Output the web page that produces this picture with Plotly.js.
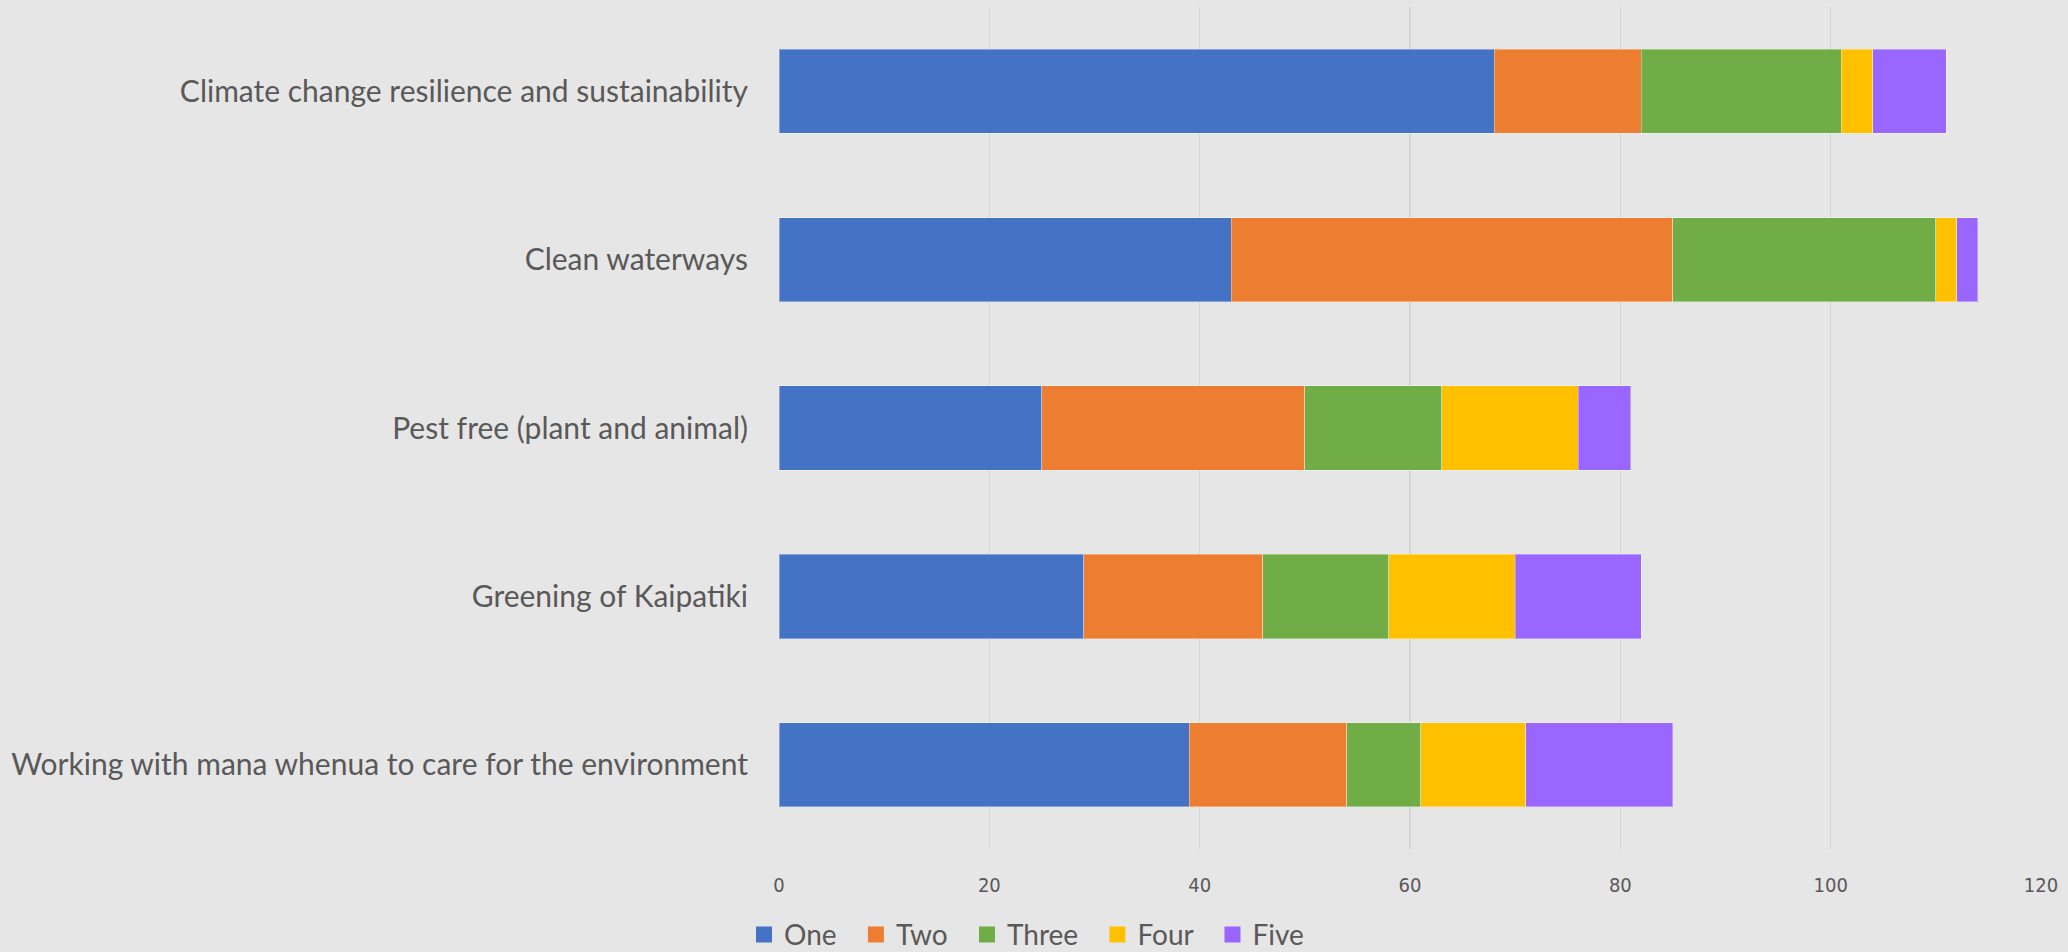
<!DOCTYPE html>
<html>
<head>
<meta charset="utf-8">
<script src="https://cdn.plot.ly/plotly-3.0.1.min.js"></script>
<style>html,body{margin:0;padding:0;background:#E7E6E6;}#chart{width:2068px;height:952px;}</style>
</head>
<body>
<div id="chart"></div>
<script>
const categories = [
  "Climate change resilience and sustainability",
  "Clean waterways",
  "Pest free (plant and animal)",
  "Greening of Kaipatiki",
  "Working with mana whenua to care for the environment"
];
const seriesNames = ["One", "Two", "Three", "Four", "Five"];
const one   = [68, 43, 25, 29, 39];
const two   = [14, 42, 25, 17, 15];
const three = [19, 25, 13, 12, 7];
const four  = [3, 2, 13, 12, 10];
const five  = [7, 2, 5, 12, 14];
const xTicks = [0, 20, 40, 60, 80, 100, 120];

const colors = ["#4472C4", "#ED7D31", "#70AD47", "#FFC000", "#9966FF"];
const values = [one, two, three, four, five];

const traces = values.map((v, i) => ({
  type: "bar",
  orientation: "h",
  name: seriesNames[i],
  y: categories,
  x: v,
  marker: {color: colors[i], line: {color: "rgba(255,255,255,0.35)", width: 1}},
  showlegend: false,
  hoverinfo: "x+name"
}));

// legend-only entries with larger square symbols
const legendTraces = seriesNames.map((n, i) => ({
  type: "scatter",
  mode: "markers",
  name: n + "  ",
  x: [null],
  y: [null],
  marker: {symbol: "square", size: 20, color: colors[i]},
  showlegend: true,
  hoverinfo: "skip"
}));

const layout = {
  width: 2068,
  height: 952,
  paper_bgcolor: "#E7E6E6",
  plot_bgcolor: "#E7E6E6",
  barmode: "stack",
  bargap: 0.5,
  margin: {l: 779, r: 27, t: 7, b: 103},
  font: {family: "Lato, 'Open Sans', sans-serif", color: "#595959"},
  xaxis: {
    range: [0, 120],
    tickvals: xTicks,
    ticktext: xTicks.map(String),
    showgrid: true,
    gridcolor: "#D5D5D5",
    gridwidth: 1.5,
    zeroline: false,
    showline: false,
    tickfont: {size: 20, color: "#595959", family: "'DejaVu Sans Condensed', 'Liberation Sans Narrow', sans-serif"},
    ticks: "outside",
    ticklen: 18,
    tickcolor: "rgba(0,0,0,0)"
  },
  yaxis: {
    type: "category",
    categoryarray: categories,
    autorange: "reversed",
    showgrid: false,
    zeroline: false,
    showline: false,
    ticks: "outside",
    ticklen: 24,
    tickcolor: "rgba(0,0,0,0)",
    tickfont: {size: 30, color: "#595959"}
  },
  legend: {
    orientation: "h",
    xref: "container",
    yref: "container",
    x: 0.5,
    xanchor: "center",
    y: 0.018,
    yanchor: "middle",
    font: {size: 28, color: "#595959"},
    traceorder: "normal",
    itemwidth: 30,
    bgcolor: "rgba(0,0,0,0)"
  },
  showlegend: true
};

Plotly.newPlot("chart", traces.concat(legendTraces), layout, {displayModeBar: false, staticPlot: true});
</script>
</body>
</html>
